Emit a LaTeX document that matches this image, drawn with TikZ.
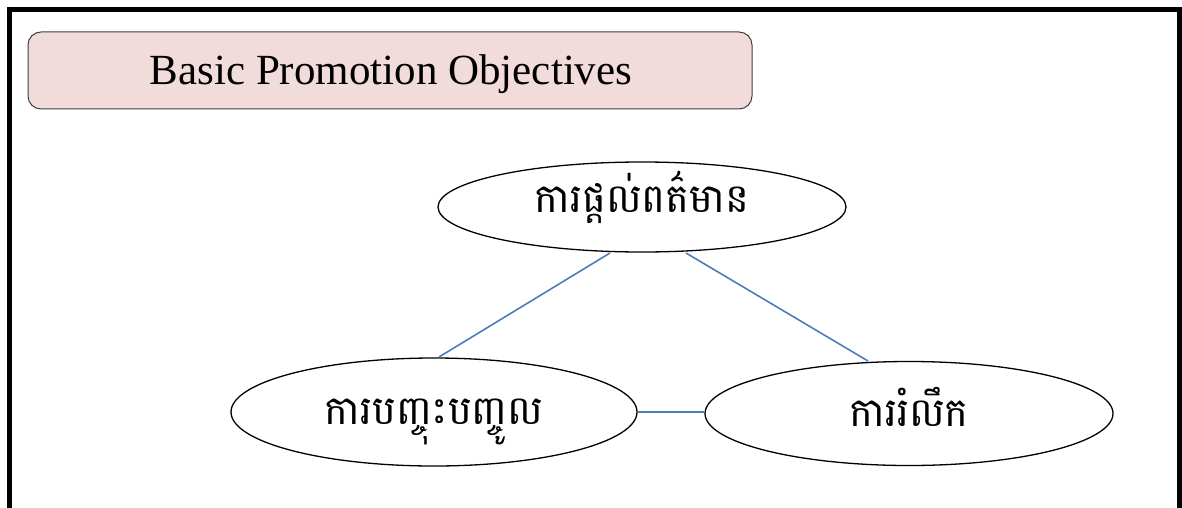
\documentclass[tikz,border=0pt]{standalone}
\usepackage{fontspec}
\setmainfont{Liberation Serif}
\newfontfamily\khmerfont[Script=Khmer]{Battambang}
\usetikzlibrary{shapes.geometric}
\definecolor{titlefill}{HTML}{F2DCDB}
\definecolor{linkblue}{HTML}{4A7EBB}
\tikzset{
  oval/.style={ellipse, draw=black, line width=1.3pt, fill=white, inner sep=0pt},
  ovaltext/.style={font=\khmerfont\fontsize{40}{46}\selectfont, inner sep=0pt},
  link/.style={draw=linkblue, line width=1.6pt},
  titlebox/.style={draw=black!75, line width=1pt, fill=titlefill, rounded corners=13pt, inner sep=0pt}
}
\begin{document}
\begin{tikzpicture}[x=1pt,y=-1pt]
\useasboundingbox (0,0) rectangle (1182,508);
\clip (0,0) rectangle (1182,508);
\fill[white] (0,0) rectangle (1182,508);
\draw[line width=5pt] (9.5,530) -- (9.5,9.5) -- (1179.5,9.5) -- (1179.5,530);
\node[titlebox, minimum width=724pt, minimum height=77pt] (title) at (390,70.5) {};
\node[font=\fontsize{43}{50}\selectfont, anchor=base] (titletext) at (391,85) {Basic Promotion Objectives};
\node[oval, minimum width=408pt, minimum height=90pt] (inform) at (642,207) {};
\node[ovaltext, anchor=base] (informtext) at (642,212) {ការផ្តល់ពត៌មាន};
\node[oval, minimum width=406pt, minimum height=108pt] (persuade) at (434,412) {};
\node[ovaltext, anchor=base] (persuadetext) at (434,424) {ការបញ្ចុះបញ្ចូល};
\node[oval, minimum width=408pt, minimum height=104pt] (remind) at (909,413.5) {};
\node[ovaltext, anchor=base] (remindtext) at (909,426) {ការរំលឹក};
\coordinate (a1) at (610,253);
\coordinate (a2) at (439,357);
\coordinate (b1) at (686,253);
\coordinate (b2) at (868,361);
\draw[link] (a1) -- (a2);
\draw[link] (b1) -- (b2);
\draw[link] (persuade.east) -- (persuade.east -| remind.west);
\end{tikzpicture}
\end{document}
